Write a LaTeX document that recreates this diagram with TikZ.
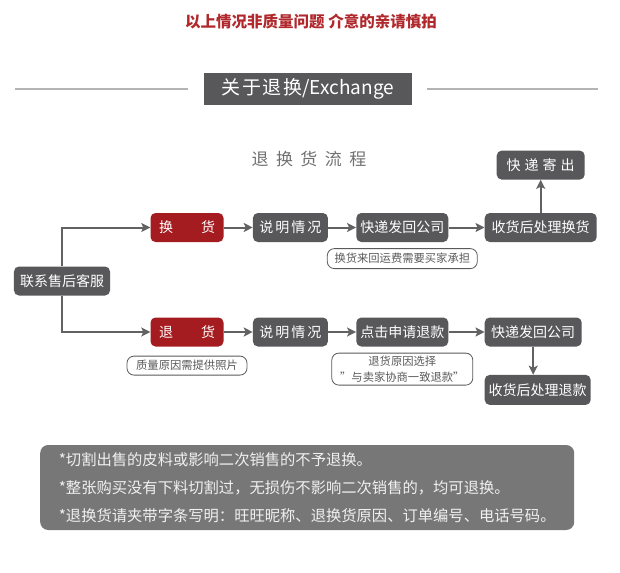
\documentclass[tikz,border=0pt]{standalone}
\usepackage{fontspec}
\setmainfont{Noto Sans CJK SC}
\usetikzlibrary{positioning, arrows.meta}
\definecolor{boxgray}{HTML}{58585A}
\definecolor{boxred}{HTML}{A51C20}
\definecolor{linegray}{HTML}{626262}
\definecolor{rulegray}{HTML}{B4B4B4}
\definecolor{notegray}{HTML}{5A5A5A}
\definecolor{panelgray}{HTML}{777777}
\definecolor{titlered}{HTML}{B0282C}
\definecolor{headgray}{HTML}{707070}

\begin{document}
\begin{tikzpicture}[
    x=1bp, y=1bp,
    every node/.style={align=center},
    stepbox/.style={
        fill=boxgray, text=white, rounded corners=5bp,
        minimum height=29bp, inner sep=0pt,
        font=\fontsize{14bp}{16bp}\selectfont
    },
    choice/.style={stepbox, fill=boxred},
    note/.style={
        draw=notegray, line width=0.8bp, fill=white, rounded corners=7bp,
        text=notegray, inner sep=0pt, font=\fontsize{11.3bp}{16bp}\selectfont
    },
    arrow/.style={
        -{Stealth[length=9bp, width=9bp, inset=2bp]},
        line width=2bp, draw=linegray
    },
    rule/.style={draw=rulegray, line width=1.5bp}
]
\useasboundingbox (0,0) rectangle (620,-573);

\node[text=titlered, font=\fontsize{15.5bp}{18bp}\selectfont\bfseries] (warn) at (311,-22)
     {以上情况非质量问题 介意的亲请慎拍};

\node[fill=boxgray, text=white, minimum width=208bp, minimum height=32bp, inner sep=0pt,
      font=\fontsize{19bp}{20bp}\selectfont] (header) at (308,-89)
     {关\hspace{1.5bp}于\hspace{1.5bp}退\hspace{1.5bp}换/Exchange};
\coordinate (ruleL) at (15,-89);
\coordinate (ruleR) at (598,-89);
\draw[rule] (ruleL) -- ([xshift=-16bp]header.west);
\draw[rule] ([xshift=15bp]header.east) -- (ruleR);

\node[text=headgray, font=\fontsize{17bp}{20bp}\selectfont] (flow) at (309,-159)
     {退\hspace{7.5bp}换\hspace{7.5bp}货\hspace{7.5bp}流\hspace{7.5bp}程};

\node[stepbox, minimum width=96bp] (contact) at (62,-281) {联系售后客服};

\node[choice, minimum width=73bp] (swap) at (187,-227.5) {换\hspace{28bp}货};
\node[stepbox, minimum width=75bp, right=29bp of swap] (explainA) {说\hspace{2bp}明\hspace{2bp}情\hspace{2bp}况};
\node[stepbox, minimum width=92bp, right=28bp of explainA] (shipA) {快递发回公司};
\node[stepbox, minimum width=112bp, right=36bp of shipA] (doneA) {收货后处理换货};
\node[stepbox, minimum width=88bp, above=33bp of doneA] (sendA) {快\hspace{4bp}递\hspace{4bp}寄\hspace{4bp}出};

\node[choice, minimum width=73bp] (refund) at (187,-332) {退\hspace{28bp}货};
\node[stepbox, minimum width=75bp, right=29bp of refund] (explainB) {说\hspace{2bp}明\hspace{2bp}情\hspace{2bp}况};
\node[stepbox, minimum width=92bp, right=28bp of explainB] (apply) {点击申请退款};
\node[stepbox, minimum width=97bp, right=36bp of apply] (shipB) {快递发回公司};
\node[stepbox, minimum width=106bp, minimum height=30bp,
      below right=28bp and 0bp of shipB.south west] (doneB) {收货后处理退款};

\node[note, minimum width=150bp, minimum height=20bp, below=6bp of shipA] (feeNote) {换货来回运费需要买家承担};
\node[note, minimum width=120bp, minimum height=19bp, below=9bp of refund] (photoNote) {质量原因需提供照片};
\node[note, minimum width=141bp, minimum height=32bp, below=6bp of apply] (reasonNote)
     {退货原因选择\\\char"22 与卖家协商一致退款\char"22};

\draw[arrow] (contact.north) |- (swap.west);
\draw[arrow] (contact.south) |- (refund.west);
\draw[arrow] (swap) -- (explainA);
\draw[arrow] (explainA) -- (shipA);
\draw[arrow] (shipA) -- (doneA);
\draw[arrow] (doneA) -- (sendA);
\draw[arrow] (refund) -- (explainB);
\draw[arrow] (explainB) -- (apply);
\draw[arrow] (apply) -- (shipB);
\draw[arrow] (shipB.south) -- (shipB.south |- doneB.north);

\node[fill=panelgray, rounded corners=8bp, minimum width=534bp, minimum height=85bp,
      text=white!94!black, align=left, inner xsep=15bp, anchor=west,
      font=\fontsize{15.3bp}{28bp}\selectfont] (rules) at (40,-487.5)
     {*切割出售的皮料或影响二次销售的不予退换。\\
      *整张购买没有下料切割过，无损伤不影响二次销售的，均可退换。\\
      *退换货请夹带字条写明：旺旺昵称、退换货原因、订单编号、电话号码。};

\end{tikzpicture}
\end{document}
